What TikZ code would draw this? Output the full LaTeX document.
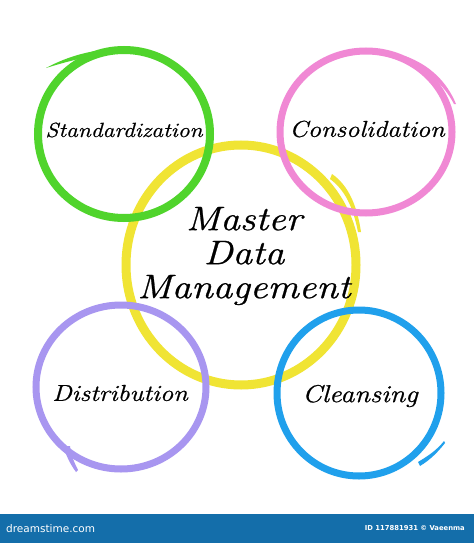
\documentclass[tikz,border=0pt]{standalone}
\usepackage{fontspec}
\newfontfamily\barfont{DejaVu Sans}
\newfontfamily\hand[FakeStretch=1.15,FakeBold=0.8]{Latin Modern Roman}
\definecolor{cgreen}{RGB}{80,212,44}
\definecolor{cpink}{RGB}{240,136,212}
\definecolor{cyellow}{RGB}{240,228,52}
\definecolor{cpurple}{RGB}{168,150,240}
\definecolor{cblue}{RGB}{32,160,236}
\definecolor{cbar}{RGB}{20,110,170}
\tikzset{
  ring/.style={line width=#1},
  lbl/.style={font=\hand\itshape\fontsize{23}{26}\selectfont, inner sep=0pt},
}
\begin{document}
\begin{tikzpicture}[x=1pt,y=-1pt]
\useasboundingbox (0,0) rectangle (474,543);
\fill[white] (0,0) rectangle (474,543);
% yellow centre ring
\draw[cyellow, ring=9] (241,265) ellipse [x radius=115, y radius=120];
\fill[cyellow] (332,174) .. controls (348,185) and (357,205) .. (361,232) -- (358,232) .. controls (353,207) and (345,190) .. (330,179) -- cycle;
% green
\draw[cgreen, ring=8] (124,134) ellipse [x radius=86, y radius=84];
\fill[cgreen] (46,68) .. controls (70,55) and (95,49) .. (125,48) -- (125,53) .. controls (95,54) and (72,60) .. cycle;
% pink
\draw[cpink, ring=7] (366,132) ellipse [x radius=86, y radius=81];
\fill[cpink] (405,56) .. controls (430,65) and (447,82) .. (456,104) -- (454,104) .. controls (444,85) and (428,70) .. (403,62) -- cycle;
% purple
\draw[cpurple, ring=7] (121,387) ellipse [x radius=85, y radius=82];
\fill[cpurple] (63,446) .. controls (66,455) and (70,464) .. (76,472) -- (78,470) .. controls (74,462) and (71,455) .. (70,446) -- cycle;
% blue
\draw[cblue, ring=7] (359,393) ellipse [x radius=82, y radius=83];
\fill[cblue] (418,462) .. controls (428,456) and (437,450) .. (444,441) -- (445,443) .. controls (438,452) and (430,460) .. (420,466) -- cycle;
% labels
\node[lbl, font=\hand\itshape\fontsize{20.5}{24}\selectfont] (std) at (124,130) {Standardization};
\node[lbl] (con) at (367,129) {Consolidation};
\node[lbl] (dis) at (120,393) {Distribution};
\node[lbl, font=\hand\itshape\fontsize{24.5}{27}\selectfont] (cle) at (360,396) {Cleansing};
\node[inner sep=0pt, align=center, font=\hand\itshape\fontsize{34}{34}\selectfont] (mdm) at (244,256) {Master\\Data\\Management};
% bottom bar
\fill[cbar] (0,514) rectangle (474,543);
\node[anchor=west, text=white, inner sep=0pt, font=\barfont\fontsize{10.5}{12}\selectfont] (brand) at (6,529) {dreamstime.com};
\node[anchor=east, text=white, inner sep=0pt, font=\barfont\bfseries\fontsize{6.8}{8}\selectfont] (credit) at (465,528) {ID 117881931 © Vaeenma};
\end{tikzpicture}
\end{document}
